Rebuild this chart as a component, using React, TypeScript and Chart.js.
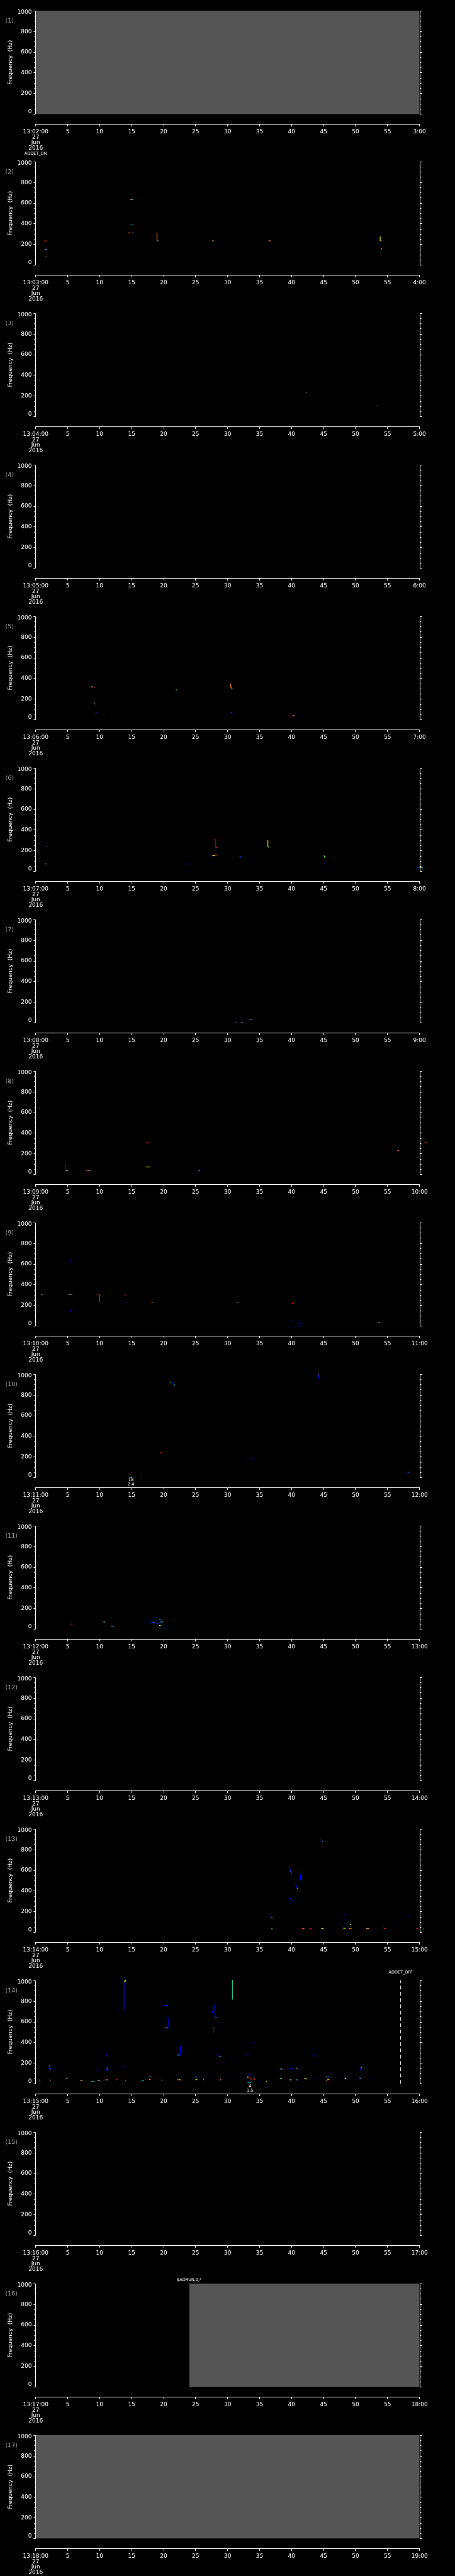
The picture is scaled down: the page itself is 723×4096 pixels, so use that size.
import React, { useEffect, useRef } from "react";
import { Chart, registerables } from "chart.js";

Chart.register(...registerables);

// ---------------- page geometry ----------------
const PAGE_W = 723;
const PAGE_H = 4096;
const PANEL_COUNT = 17;
const BLOCK_H = PAGE_H / PANEL_COUNT;
const CANVAS_H = 241;
const K = PAGE_H / 5802;
const FONT = "'DejaVu Sans', 'Liberation Sans', sans-serif";

const PLOT_LEFT = 80.3 * K;
const PLOT_RIGHT = 944.3 * K;
const PLOT_TOP = 23.8 * K;
const PLOT_BOTTOM = 256.8 * K;
const XAXIS_Y = 280.3 * K;
const Y_MIN = -((XAXIS_Y - PLOT_BOTTOM) / (PLOT_BOTTOM - PLOT_TOP)) * 1000;

// ---------------- axes / labels data ----------------
const START_MINUTE = [2, 3, 4, 5, 6, 7, 8, 9, 10, 11, 12, 13, 14, 15, 16, 17, 18];
const HOUR = 13;
const DATE_LINES = ["27", "Jun", "2016"];
const X_MAX = 60;
const X_STEP = 5;
const Y_MAX = 1000;
const Y_LABELS = [0, 200, 400, 600, 800, 1000];
const Y_MINOR_STEP = 50;
const Y_TITLE = "Frequency  (Hz)";

// colour keys of the spectrogram colour bar
const PALETTE: Record<string, string> = {
  b: "#0000ff",
  B: "#0064ff",
  c: "#00dcff",
  a: "#30e8b0",
  g: "#40ff40",
  y: "#ffff00",
  o: "#ff9a00",
  r: "#ff2800",
  d: "#b00000",
  w: "#8c8c8c",
};

// gray "no data" spans: [panel, fromSec, toSec]
const GRAY_FILLS: [number, number, number][] = [
  [1, 0, 60],
  [16, 24.0, 60],
  [17, 0, 60],
];

// events
const EVENT_PANEL = [2, 14, 16];
const EVENT_TIME = [0, 57.05, 24.0];
const EVENT_LABEL = ["ADDET_ON", "ADDET_OFF", "$ADRUN,0,*"];
const EVENT_DASHED = [false, true, false];

// numeric notes under the plot
const NOTE_PANEL = [10, 14];
const NOTE_TIME = [14.9, 33.5];
const NOTE_LINES = [["18", "2.4"], ["4", "1.5"]];

// marks: [t0 (s), f0 (Hz), t1 (s), f1 (Hz), colourKey]
type Mark = [number, number, number, number, string];

const MARKS_P02: Mark[] = [
  [1.35, 232, 1.75, 232, "r"], [1.4, 232, 1.45, 226, "r"],
  [1.5, 151, 1.6, 151, "o"], [1.6, 151, 1.72, 151, "c"],
  [1.55, 76, 1.62, 76, "y"], [1.62, 78, 1.75, 78, "c"],
  [14.65, 640, 14.7, 633, "b"], [14.7, 633, 14.8, 633, "b"], [14.8, 633, 14.95, 633, "o"], [14.95, 633, 15.1, 633, "y"], [15.1, 631, 15.25, 631, "c"],
  [14.85, 390, 15.0, 390, "b"], [15.0, 388, 15.2, 388, "c"],
  [14.5, 310, 14.7, 310, "o"], [14.7, 310, 15.1, 310, "d"], [15.1, 310, 15.3, 310, "c"],
  [18.96, 310, 18.96, 233, "o"], [19.0, 233, 19.2, 233, "c"],
  [27.6, 233, 27.85, 233, "o"],
  [36.3, 233, 36.5, 233, "d"], [36.5, 233, 36.7, 233, "y"],
  [53.85, 276, 53.85, 233, "y"], [53.9, 233, 54.15, 233, "r"],
  [53.9, 154, 54.0, 154, "r"], [54.0, 155, 54.15, 155, "y"],
];

const MARKS_P03: Mark[] = [
  [42.2, 235, 42.35, 235, "r"], [42.35, 235, 42.45, 235, "g"],
  [53.3, 106, 53.4, 100, "r"], [53.4, 100, 53.5, 94, "b"],
];

const MARKS_P05: Mark[] = [
  [8.7, 317, 8.85, 317, "y"], [8.85, 317, 8.9, 317, "o"],
  [9.0, 309, 9.3, 309, "d"],
  [9.1, 153, 9.3, 153, "g"],
  [9.4, 72, 9.5, 72, "c"], [9.5, 72, 9.65, 72, "b"],
  [21.9, 287, 22.1, 287, "g"],
  [30.5, 349, 30.5, 307, "o"], [30.55, 310, 30.7, 300, "g"], [30.7, 300, 30.75, 296, "c"],
  [30.6, 72, 30.7, 72, "y"], [30.7, 72, 30.8, 72, "b"],
  [39.8, 38, 40.2, 38, "d"], [40.2, 38, 40.45, 38, "y"],
];

const MARKS_P06: Mark[] = [
  [1.45, 232, 1.6, 238, "b"], [1.55, 235, 1.68, 238, "c"],
  [1.5, 70, 1.68, 70, "g"],
  [23.7, 70, 24.0, 70, "b"],
  [27.5, 132, 27.6, 150, "b"], [27.6, 152, 27.9, 152, "y"], [27.9, 153, 28.3, 155, "o"],
  [27.9, 312, 28.1, 312, "d"], [28.1, 312, 28.1, 232, "d"], [28.1, 232, 28.45, 232, "r"],
  [36.3, 300, 36.3, 234, "y"], [36.3, 234, 36.45, 232, "g"],
  [31.9, 148, 32.0, 140, "c"], [32.0, 140, 32.2, 121, "b"],
  [45.0, 151, 45.1, 151, "r"], [45.1, 151, 45.2, 130, "g"],
  [45.0, 70, 45.2, 70, "b"],
  [59.7, 37, 60.0, 37, "b"], [60.0, 37, 60.3, 37, "y"], [60.3, 37, 60.5, 37, "c"],
];

const MARKS_P07: Mark[] = [
  [31.1, 0, 31.25, 0, "b"], [31.25, 0, 31.4, 0, "c"],
  [32.1, 0, 32.4, 0, "c"],
  [33.4, 33, 33.55, 33, "b"], [33.55, 33, 33.8, 33, "c"],
];

const MARKS_P08: Mark[] = [
  [4.6, 102, 4.6, 38, "d"], [4.6, 38, 4.85, 38, "c"], [4.85, 38, 5.1, 38, "y"],
  [7.9, 38, 8.1, 38, "r"], [8.1, 38, 8.3, 38, "o"], [8.3, 38, 8.45, 38, "y"], [8.45, 38, 8.6, 38, "c"],
  [17.2, 305, 17.5, 305, "r"], [17.5, 305, 17.8, 305, "d"],
  [17.2, 71, 17.5, 71, "o"], [17.5, 71, 17.7, 71, "y"], [17.7, 71, 17.95, 71, "c"],
  [25.4, 38, 25.55, 38, "b"], [25.55, 38, 25.7, 38, "y"],
  [56.55, 229, 56.7, 229, "y"], [56.7, 229, 56.8, 229, "r"],
  [60.8, 305, 60.95, 305, "o"], [60.95, 305, 61.1, 305, "r"],
];

const MARKS_P09: Mark[] = [
  [0.85, 305, 1.1, 305, "w"],
  [5.1, 305, 5.7, 305, "w"],
  [5.3, 636, 5.45, 630, "b"], [5.45, 630, 5.6, 623, "b"],
  [5.2, 153, 5.4, 150, "b"], [5.4, 150, 5.6, 135, "b"],
  [9.5, 305, 10.0, 305, "d"], [10.0, 305, 10.0, 229, "r"],
  [13.9, 305, 14.0, 290, "r"], [14.0, 305, 14.2, 305, "b"],
  [13.9, 229, 14.05, 229, "r"], [14.05, 229, 14.2, 229, "b"],
  [18.1, 229, 18.3, 229, "o"], [18.3, 229, 18.5, 229, "b"],
  [31.4, 229, 31.55, 229, "r"], [31.55, 229, 31.7, 229, "o"],
  [40.1, 229, 40.25, 225, "r"], [40.1, 220, 40.2, 208, "r"], [40.25, 229, 40.4, 229, "b"],
  [40.1, 56, 40.2, 56, "b"],
  [41.3, 25, 41.5, 25, "b"],
  [53.5, 33, 53.8, 33, "c"],
];

const MARKS_P10: Mark[] = [
  [21.0, 922, 21.2, 920, "g"], [21.2, 918, 21.6, 900, "b"], [21.6, 898, 21.8, 892, "c"],
  [44.2, 1000, 44.3, 1000, "y"], [44.25, 995, 44.25, 952, "b"],
  [19.5, 244, 19.65, 236, "r"], [19.65, 236, 19.8, 233, "d"],
  [33.65, 180, 34.0, 180, "b"],
  [58.0, 37, 58.2, 45, "b"], [58.2, 45, 58.4, 53, "B"],
  [14.65, 0, 15.1, 0, "c"],
];

const MARKS_P11: Mark[] = [
  [5.45, 48, 5.75, 48, "r"], [5.75, 48, 6.0, 48, "b"],
  [10.6, 69, 10.75, 69, "y"], [10.75, 69, 10.85, 69, "g"],
  [11.85, 26, 12.1, 26, "c"],
  [17.7, 48, 17.95, 62, "b"], [17.95, 66, 18.3, 62, "b"], [18.3, 62, 18.7, 58, "c"], [18.7, 58, 19.0, 55, "b"],
  [19.0, 55, 19.1, 55, "r"], [19.1, 58, 19.5, 66, "b"], [19.5, 69, 19.9, 69, "c"],
  [19.3, 95, 19.55, 95, "c"],
  [19.3, 35, 19.55, 35, "y"],
];

const MARKS_P13: Mark[] = [
  [39.6, 640, 39.8, 600, "b"], [39.8, 600, 40.0, 560, "B"],
  [40.6, 470, 40.8, 430, "b"], [40.8, 430, 41.0, 420, "c"],
  [39.8, 330, 40.1, 300, "b"],
  [41.4, 560, 41.4, 500, "b"],
  [44.6, 905, 44.8, 880, "b"], [44.8, 880, 44.9, 875, "c"],
  [36.7, 160, 36.85, 150, "b"], [36.85, 148, 37.0, 138, "c"],
  [36.8, 32, 37.05, 32, "g"],
  [41.5, 30, 41.75, 34, "r"], [41.75, 34, 42.0, 34, "o"],
  [42.85, 36, 43.1, 36, "r"],
  [44.6, 36, 44.8, 36, "o"], [44.8, 34, 45.0, 34, "y"],
  [48.05, 171, 48.4, 171, "b"],
  [48.05, 39, 48.2, 39, "g"], [48.2, 37, 48.4, 37, "y"],
  [49.1, 72, 49.3, 72, "y"],
  [49.0, 36, 49.2, 34, "o"], [49.2, 36, 49.4, 36, "r"],
  [51.65, 36, 52.1, 36, "o"],
  [54.3, 43, 54.5, 36, "d"], [54.5, 36, 54.75, 36, "r"],
  [56.1, 54, 56.3, 54, "b"],
  [58.15, 155, 58.4, 155, "b"],
  [59.5, 36, 59.65, 36, "r"], [59.65, 38, 59.8, 38, "o"],
  [60.5, 32, 60.65, 32, "c"],
];

const MARKS_P14: Mark[] = [
  [0.5, 36, 0.75, 36, "c"],
  [2.0, 145, 2.4, 145, "b"], [2.15, 145, 2.35, 140, "c"], [2.1, 172, 2.3, 172, "c"],
  [2.2, 36, 2.4, 36, "o"], [2.2, 34, 2.3, 34, "y"],
  [4.75, 57, 4.9, 50, "g"], [4.9, 50, 5.0, 46, "c"],
  [6.9, 35, 7.1, 35, "o"], [7.1, 33, 7.3, 33, "y"], [7.3, 35, 7.5, 36, "b"],
  [8.7, 21, 9.15, 21, "c"],
  [9.6, 33, 9.8, 33, "o"], [9.8, 33, 10.05, 33, "y"],
  [9.55, 135, 9.85, 135, "b"],
  [11.0, 148, 11.15, 128, "b"], [11.15, 128, 11.3, 165, "B"],
  [11.0, 280, 11.3, 255, "b"],
  [10.8, 38, 11.0, 38, "r"], [11.0, 38, 11.15, 38, "o"], [11.15, 38, 11.3, 38, "y"],
  [12.5, 47, 12.7, 36, "r"], [12.55, 38, 12.7, 38, "b"],
  [13.8, 710, 13.8, 985, "b"], [13.85, 985, 14.1, 1000, "y"], [13.9, 1000, 14.05, 980, "g"],
  [13.75, 162, 14.1, 165, "b"], [13.95, 163, 14.1, 163, "c"],
  [13.9, 34, 14.1, 34, "o"],
  [16.6, 28, 16.9, 35, "c"],
  [17.7, 67, 18.0, 67, "c"],
  [17.7, 40, 17.85, 40, "o"], [17.85, 40, 18.0, 40, "r"], [17.75, 42, 17.85, 42, "y"],
  [19.6, 36, 19.8, 36, "c"],
  [20.1, 757, 20.6, 757, "b"], [20.3, 757, 20.5, 757, "c"],
  [20.7, 641, 20.7, 541, "b"], [20.15, 540, 20.7, 540, "c"], [20.4, 538, 20.7, 538, "b"],
  [22.1, 38, 22.4, 38, "o"], [22.4, 40, 22.6, 40, "y"], [22.6, 36, 22.8, 36, "r"],
  [22.1, 278, 22.6, 278, "c"], [22.3, 276, 22.6, 276, "b"], [22.6, 278, 22.6, 366, "b"],
  [24.95, 65, 25.2, 65, "c"],
  [24.95, 40, 25.1, 40, "o"], [25.1, 40, 25.25, 40, "y"],
  [26.2, 40, 26.3, 40, "c"], [26.2, 38, 26.3, 38, "g"],
  [28.8, 38, 28.95, 38, "o"], [28.9, 42, 29.0, 36, "r"], [28.8, 36, 28.9, 36, "y"],
  [27.55, 700, 27.6, 688, "b"], [27.6, 688, 27.75, 688, "b"], [27.75, 688, 27.8, 760, "b"],
  [27.8, 757, 28.0, 757, "b"], [28.0, 757, 28.05, 636, "b"], [28.05, 636, 28.3, 640, "c"],
  [27.8, 490, 27.8, 540, "b"], [27.8, 540, 28.0, 540, "c"],
  [28.5, 280, 28.7, 272, "b"], [28.7, 262, 29.0, 262, "c"],
  [30.25, 65, 30.5, 65, "b"],
  [30.5, 262, 30.55, 254, "b"],
  [30.75, 1000, 30.75, 813, "a"], [30.65, 1000, 30.85, 1000, "c"],
  [33.0, 285, 33.3, 285, "b"],
  [33.1, 57, 33.2, 72, "o"], [33.2, 77, 33.45, 86, "b"], [33.45, 86, 33.65, 86, "B"],
  [33.55, 60, 33.7, 40, "r"], [33.3, 60, 33.4, 55, "y"],
  [33.1, 14, 33.7, 14, "c"],
  [34.0, 57, 34.25, 42, "r"], [34.1, 45, 34.25, 45, "o"],
  [34.0, 400, 34.3, 395, "b"],
  [36.0, 21, 36.2, 21, "y"],
  [38.2, 57, 38.5, 46, "g"], [38.35, 48, 38.5, 46, "c"],
  [38.2, 145, 38.55, 140, "c"], [38.4, 140, 38.55, 140, "b"],
  [39.7, 147, 40.2, 140, "b"], [39.7, 145, 39.9, 145, "c"],
  [39.7, 38, 40.0, 38, "y"],
  [40.7, 150, 41.0, 150, "c"], [40.85, 148, 41.0, 148, "b"],
  [40.7, 38, 41.0, 38, "c"],
  [41.95, 57, 42.15, 50, "o"], [42.15, 50, 42.4, 46, "y"], [42.2, 46, 42.4, 46, "g"],
  [43.55, 275, 43.8, 254, "b"],
  [45.4, 65, 45.85, 65, "c"], [45.6, 65, 45.85, 65, "b"],
  [45.4, 30, 45.6, 38, "o"], [45.6, 40, 45.85, 40, "y"],
  [48.1, 46, 48.3, 50, "b"], [48.3, 52, 48.5, 52, "y"], [48.2, 48, 48.5, 48, "g"],
  [50.65, 132, 50.8, 145, "b"], [50.8, 145, 50.85, 158, "B"], [50.85, 158, 51.0, 158, "c"],
  [50.65, 60, 50.8, 48, "c"], [50.8, 48, 50.9, 46, "b"],
  [52.3, 57, 52.6, 52, "b"],
];

const EMPTY: Mark[] = [];
const PANEL_MARKS: Mark[][] = [
  EMPTY, MARKS_P02, MARKS_P03, EMPTY, MARKS_P05, MARKS_P06, MARKS_P07, MARKS_P08,
  MARKS_P09, MARKS_P10, MARKS_P11, EMPTY, MARKS_P13, MARKS_P14, EMPTY, EMPTY, EMPTY,
];

// label vertical placement of event texts (reference px within block)
const EVENT_LABEL_Y = [5.7, 6.1, 15.6];

function pad2(n: number) {
  return n < 10 ? "0" + n : String(n);
}

function makeDecor(panelNo: number) {
  return {
    id: "decor" + panelNo,
    afterDraw(chart: any) {
      const ctx = chart.ctx;
      const area = chart.chartArea;
      const ys = chart.scales.y;
      const xs = chart.scales.x;
      const L = area.left;
      const R = area.right;
      const yTop = ys.getPixelForValue(Y_MAX);
      const yBot = ys.getPixelForValue(0);
      ctx.save();
      ctx.strokeStyle = "#ffffff";
      ctx.lineWidth = 1;
      const lx = Math.round(L) - 0.5;
      const rx = Math.round(R) + 0.5;
      ctx.beginPath();
      ctx.moveTo(lx, Math.round(yTop) + 0.5);
      ctx.lineTo(lx, Math.round(yBot) + 0.5);
      ctx.moveTo(rx, Math.round(yTop) + 0.5);
      ctx.lineTo(rx, Math.round(yBot) + 0.5);
      for (let v = 0; v <= Y_MAX; v += Y_MINOR_STEP) {
        const py = Math.round(ys.getPixelForValue(v)) + 0.5;
        const len = v % 200 === 0 ? 3.2 : 2.0;
        ctx.moveTo(lx - len, py);
        ctx.lineTo(lx, py);
        ctx.moveTo(rx, py);
        ctx.lineTo(rx + len, py);
      }
      ctx.stroke();

      // y tick labels
      ctx.fillStyle = "#ffffff";
      ctx.font = `9px ${FONT}`;
      ctx.textAlign = "right";
      ctx.textBaseline = "middle";
      Y_LABELS.forEach((v) => {
        const off = v === Y_MAX ? 2.6 : v === 0 ? -3.3 : 0.5;
        ctx.fillText(String(v), L - 6.3, ys.getPixelForValue(v) + off);
      });

      // y title
      ctx.save();
      ctx.translate(23 * K, (yTop + yBot) / 2);
      ctx.rotate(-Math.PI / 2);
      ctx.textAlign = "center";
      ctx.font = `9px ${FONT}`;
      ctx.fillText(Y_TITLE, 0, 0);
      ctx.restore();

      // panel number
      ctx.fillStyle = "#a0a0a0";
      ctx.font = `9.5px ${FONT}`;
      ctx.textAlign = "left";
      ctx.textBaseline = "middle";
      ctx.fillText(`(${panelNo})`, 12 * K, PLOT_TOP + 23 * K);

      // event labels
      ctx.fillStyle = "#ffffff";
      ctx.font = `6.5px ${FONT}`;
      ctx.textAlign = "center";
      EVENT_PANEL.forEach((p, i) => {
        if (p !== panelNo) return;
        ctx.fillText(EVENT_LABEL[i], xs.getPixelForValue(EVENT_TIME[i]), EVENT_LABEL_Y[i] * K);
      });

      // notes under plot
      NOTE_PANEL.forEach((p, i) => {
        if (p !== panelNo) return;
        const x = xs.getPixelForValue(NOTE_TIME[i]);
        NOTE_LINES[i].forEach((s, j) => {
          ctx.fillText(s, x, (262.5 + 10 * j) * K);
        });
      });
      ctx.restore();
    },
  };
}

function Panel({ index }: { index: number }) {
  const ref = useRef<HTMLCanvasElement | null>(null);
  useEffect(() => {
    const canvas = ref.current;
    if (!canvas) return;
    const panelNo = index + 1;
    const startMin = START_MINUTE[index];
    const datasets: any[] = [];

    GRAY_FILLS.filter((f) => f[0] === panelNo).forEach(([, a, b]) => {
      datasets.push({
        data: [{ x: a, y: Y_MAX }, { x: b, y: Y_MAX }],
        fill: "origin",
        backgroundColor: "#555555",
        borderWidth: 0,
        borderColor: "rgba(0,0,0,0)",
        pointRadius: 0,
        order: 10,
      });
    });

    EVENT_PANEL.forEach((p, i) => {
      if (p !== panelNo || !EVENT_DASHED[i]) return;
      datasets.push({
        data: [{ x: EVENT_TIME[i], y: 0 }, { x: EVENT_TIME[i], y: Y_MAX }],
        borderColor: "#ffffff",
        borderWidth: 1,
        borderDash: [6, 4],
        pointRadius: 0,
        fill: false,
        order: 5,
      });
    });

    PANEL_MARKS[index].forEach(([t0, f0, t1, f1, c]) => {
      datasets.push({
        data: [{ x: t0, y: f0 }, { x: t1, y: f1 }],
        borderColor: PALETTE[c],
        borderWidth: 1.1,
        pointRadius: 0,
        fill: false,
        clip: false,
        order: 0,
      });
    });

    const chart = new Chart(canvas, {
      type: "line",
      data: { datasets },
      options: {
        responsive: false,
        animation: false,
        devicePixelRatio: 1,
        events: [],
        layout: {
          padding: { left: PLOT_LEFT, right: PAGE_W - PLOT_RIGHT, top: PLOT_TOP, bottom: 0 },
        },
        plugins: {
          legend: { display: false },
          tooltip: { enabled: false },
          title: { display: false },
        },
        scales: {
          x: {
            type: "linear",
            min: 0,
            max: X_MAX,
            position: "bottom",
            afterFit: (s: any) => {
              s.height = CANVAS_H - XAXIS_Y;
            },
            border: { display: true, color: "#ffffff", width: 1 },
            grid: {
              display: true,
              drawOnChartArea: false,
              drawTicks: true,
              tickLength: 3,
              color: "#ffffff",
              tickColor: "#ffffff",
              tickWidth: 1,
            },
            ticks: {
              stepSize: X_STEP,
              autoSkip: false,
              maxRotation: 0,
              minRotation: 0,
              padding: 4.5,
              color: "#ffffff",
              font: { family: FONT, size: 9, lineHeight: 0.95 },
              callback: (v: any) => {
                const n = Number(v);
                if (n === 0) return [`${HOUR}:${pad2(startMin)}:00`, ...DATE_LINES];
                if (n === X_MAX) return `${startMin + 1}:00`;
                return String(n);
              },
            },
          },
          y: {
            type: "linear",
            min: Y_MIN,
            max: Y_MAX,
            display: false,
          },
        },
      } as any,
      plugins: [makeDecor(panelNo)],
    });
    return () => chart.destroy();
  }, [index]);

  return (
    <canvas
      ref={ref}
      width={PAGE_W}
      height={CANVAS_H}
      style={{
        position: "absolute",
        left: 0,
        top: Math.floor(index * BLOCK_H),
        width: PAGE_W,
        height: CANVAS_H,
        display: "block",
      }}
    />
  );
}

export default function App() {
  useEffect(() => {
    document.body.style.margin = "0";
    document.body.style.background = "#000";
  }, []);
  const panels = START_MINUTE.map((_, i) => <Panel key={i} index={i} />);
  return (
    <div style={{ position: "relative", width: PAGE_W, height: PAGE_H, background: "#000", overflow: "hidden" }}>
      {panels}
    </div>
  );
}
